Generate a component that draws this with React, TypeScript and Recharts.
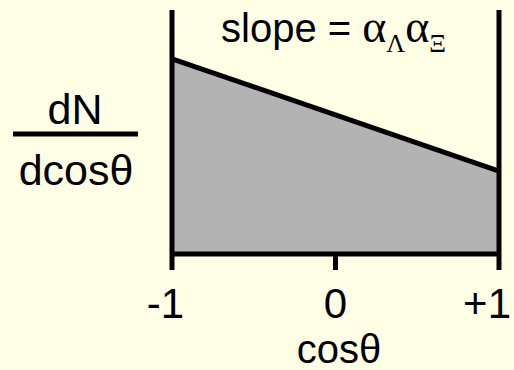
import { Area, ComposedChart, ReferenceLine, XAxis, YAxis } from 'recharts'

// ---------------------------------------------------------------------------
// Data
// ---------------------------------------------------------------------------

const COS_VALUES = [-1, 1]
const DENSITY = [0.8, 0.34]
const TICKS = [-1, 0, 1]
const TICK_LABELS = ['-1', '0', '+1']

const data = COS_VALUES.map((x, i) => ({ x, y: DENSITY[i] }))

const BG = '#ffffe6'
const SANS = '"Liberation Sans", Arial, sans-serif'
const SERIF = '"Liberation Serif", "Times New Roman", serif'

// ---------------------------------------------------------------------------
// Tick with the sign hanging left of the digit
// ---------------------------------------------------------------------------

function CosTick(props: any): React.JSX.Element {
  const { x, y, payload } = props
  const label = TICK_LABELS[TICKS.indexOf(payload.value)]
  const signed = label.length > 1
  return (
    <text
      x={signed ? x + 12 : x}
      y={y + 48}
      textAnchor={signed ? 'end' : 'middle'}
      fontFamily={SANS}
      fontSize={42}
      fill="#000"
    >
      {label}
    </text>
  )
}

export default function App(): React.JSX.Element {
  return (
    <div style={{ position: 'fixed', left: 0, top: 0, width: 514, height: 370, background: BG }}>
      <ComposedChart
        width={514}
        height={370}
        data={data}
        margin={{ top: 10, right: 15, left: 172, bottom: 0 }}
      >
        <XAxis
          dataKey="x"
          type="number"
          domain={[-1, 1]}
          ticks={TICKS}
          height={116}
          tickSize={16}
          tickMargin={0}
          axisLine={{ stroke: '#000', strokeWidth: 5 }}
          tickLine={{ stroke: '#000', strokeWidth: 5 }}
          tick={<CosTick />}
          interval={0}
        />
        <YAxis hide domain={[0, 1]} />
        <Area
          type="linear"
          dataKey="y"
          baseValue={0}
          fill="#b3b3b3"
          fillOpacity={1}
          stroke="#000"
          strokeWidth={5}
          isAnimationActive={false}
        />
        <ReferenceLine x={-1} stroke="#000" strokeWidth={5} />
        <ReferenceLine x={1} stroke="#000" strokeWidth={5} />

        <text x={221} y={42} fontFamily={SANS} fontSize={40} fill="#000">
          slope ={' '}
          <tspan fontFamily={SERIF} fontSize={46}>α</tspan>
          <tspan fontFamily={SERIF} fontSize={26} dy={10}>Λ</tspan>
          <tspan fontFamily={SERIF} fontSize={46} dy={-10}>α</tspan>
          <tspan fontFamily={SERIF} fontSize={26} dy={10}>Ξ</tspan>
        </text>

        <text x={75} y={124} textAnchor="middle" fontFamily={SANS} fontSize={43} fill="#000">
          dN
        </text>
        <line x1={13} x2={138} y1={134} y2={134} stroke="#000" strokeWidth={5} />
        <text x={76} y={185} textAnchor="middle" fontFamily={SANS} fontSize={43} fill="#000">
          dcosθ
        </text>

        <text x={339} y={363} textAnchor="middle" fontFamily={SANS} fontSize={40} fill="#000">
          cosθ
        </text>
      </ComposedChart>
    </div>
  )
}
